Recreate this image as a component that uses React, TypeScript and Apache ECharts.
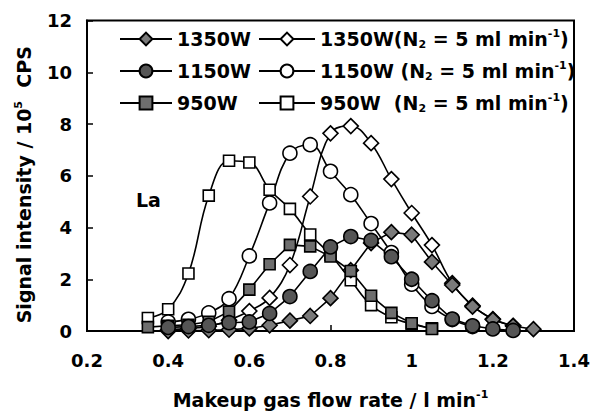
import { useEffect, useRef } from 'react';
import * as echarts from 'echarts';

// Makeup gas flow rate (l/min) shared by all measurement runs
const flowRate = [0.35, 0.4, 0.45, 0.5, 0.55, 0.6, 0.65, 0.7, 0.75, 0.8, 0.85, 0.9, 0.95, 1.0, 1.05, 1.1, 1.15, 1.2, 1.25, 1.3];

// La signal intensity (10^5 CPS); null = not measured at that flow rate
const la1350 = [null, 0.0, 0.02, 0.03, 0.05, 0.1, 0.22, 0.4, 0.58, 1.27, 2.35, 3.4, 3.82, 3.72, 2.67, 1.78, 0.94, 0.44, 0.19, 0.07];
const la1350N2 = [null, 0.05, 0.1, 0.18, 0.42, 0.77, 1.28, 2.55, 5.2, 7.64, 7.92, 7.26, 5.87, 4.56, 3.32, 1.85, 0.98, 0.46, 0.2, null];
const la1150 = [null, 0.14, 0.17, 0.22, 0.32, 0.35, 0.68, 1.33, 2.3, 3.25, 3.65, 3.5, 2.87, 2.0, 1.17, 0.46, 0.2, 0.08, 0.02, null];
const la1150N2 = [null, 0.35, 0.45, 0.7, 1.25, 2.9, 4.95, 6.87, 7.2, 6.17, 5.27, 4.15, 3.03, 1.81, 0.95, 0.44, 0.17, null, null, null];
const la950 = [0.15, 0.2, 0.24, 0.36, 0.75, 1.6, 2.58, 3.33, 3.27, 2.88, 2.32, 1.36, 0.7, 0.3, 0.08, null, null, null, null, null];
const la950N2 = [0.5, 0.84, 2.22, 5.23, 6.58, 6.51, 5.46, 4.72, 3.73, 2.95, 1.96, 1.0, 0.53, 0.27, 0.1, null, null, null, null, null];

const powerNames = ['1350W', '1150W', '950W'];
const n2Names = ['1350W(N2 = 5 ml min-1)', '1150W (N2 = 5 ml min-1)', '950W  (N2 = 5 ml min-1)'];

const xTicks = { min: 0.2, max: 1.4, step: 0.2 };
const yTicks = { min: 0, max: 12, step: 2 };

const FONT = 'DejaVu Sans';

const toPoints = (ys: (number | null)[]) =>
  flowRate.map((x, i) => [x, ys[i]] as [number, number | null]).filter((p) => p[1] !== null);

const richScripts = (size: number) => ({
  sub: { fontFamily: FONT, fontWeight: 'bold', fontSize: size, lineHeight: 12, verticalAlign: 'bottom', color: '#000' },
  sup: { fontFamily: FONT, fontWeight: 'bold', fontSize: size, lineHeight: 12, verticalAlign: 'top', color: '#000' },
});

const withScripts = (s: string) => s.replace('N2', 'N{sub|2}').replace('min-1', 'min{sup|-1}');

export default function App() {
  const ref = useRef<HTMLDivElement>(null);

  useEffect(() => {
    if (!ref.current) return;
    const chart = echarts.init(ref.current, null, { renderer: 'svg' });

    const line = (
      name: string,
      ys: (number | null)[],
      symbol: string,
      size: number,
      fill: string,
      smooth: boolean | number,
    ) => ({
      name,
      type: 'line',
      data: toPoints(ys),
      symbol,
      symbolSize: size,
      smooth,
      showAllSymbol: true,
      lineStyle: { color: '#000', width: 1.6 },
      itemStyle: { color: fill, borderColor: '#000', borderWidth: 1.6 },
      emphasis: { disabled: true },
    });

    const legendBase = {
      orient: 'vertical',
      top: 28,
      itemGap: 10,
      itemHeight: 16,
      icon: undefined,
      selectedMode: false,
      padding: 0,
      textStyle: {
        fontFamily: FONT,
        fontWeight: 'bold',
        fontSize: 19,
        lineHeight: 22,
        color: '#000',
        rich: richScripts(11),
      },
      formatter: (n: string) => withScripts(n),
    };

    chart.setOption({
      animation: false,
      backgroundColor: '#fff',
      grid: { left: 87, right: 21, top: 20.5, bottom: 84, show: true, borderColor: '#000', borderWidth: 2, backgroundColor: 'transparent' },
      legend: [
        { ...legendBase, left: 119, itemWidth: 52, data: powerNames },
        { ...legendBase, left: 258, itemWidth: 56, data: n2Names },
      ],
      xAxis: {
        type: 'value',
        min: xTicks.min,
        max: xTicks.max,
        interval: xTicks.step,
        splitLine: { show: false },
        axisLine: { lineStyle: { color: '#000', width: 2 } },
        axisTick: { inside: true, length: 6, lineStyle: { color: '#000', width: 1.5 } },
        axisLabel: { margin: 20, fontFamily: FONT, fontWeight: 'bold', fontSize: 18, color: '#000' },
        name: withScripts('Makeup gas flow rate / l min-1'),
        nameLocation: 'middle',
        nameGap: 58,
        nameTextStyle: { fontFamily: FONT, fontWeight: 'bold', fontSize: 19, lineHeight: 22, color: '#000', rich: richScripts(11) },
      },
      yAxis: {
        type: 'value',
        min: yTicks.min,
        max: yTicks.max,
        interval: yTicks.step,
        splitLine: { show: false },
        axisLine: { lineStyle: { color: '#000', width: 2 } },
        axisTick: { inside: true, length: 6, lineStyle: { color: '#000', width: 1.5 } },
        axisLabel: { margin: 15, fontFamily: FONT, fontWeight: 'bold', fontSize: 18, color: '#000' },
        name: 'Signal intensity / 10{sup|5}  CPS',
        nameLocation: 'middle',
        nameGap: 52,
        nameTextStyle: {
          fontFamily: FONT,
          fontWeight: 'bold',
          fontSize: 19,
          lineHeight: 22,
          color: '#000',
          padding: [0, 18, 0, 0],
          rich: richScripts(11),
        },
      },
      graphic: [
        {
          type: 'text',
          left: 136,
          top: 190,
          style: { text: 'La', fontFamily: FONT, fontWeight: 'bold', fontSize: 19, fill: '#000' },
        },
      ],
      series: [
        line(n2Names[2], la950N2, 'rect', 11, '#fff', 0.4),
        line(n2Names[1], la1150N2, 'circle', 14, '#fff', 0.4),
        line(n2Names[0], la1350N2, 'diamond', 15, '#fff', 0.4),
        line(powerNames[0], la1350, 'diamond', 15, '#7a7a7a', false),
        line(powerNames[2], la950, 'rect', 11, '#6e6e6e', false),
        line(powerNames[1], la1150, 'circle', 14, '#555555', false),
      ],
    });

    return () => chart.dispose();
  }, []);

  return <div ref={ref} style={{ position: 'fixed', left: 0, top: 0, width: 595, height: 416 }} />;
}
